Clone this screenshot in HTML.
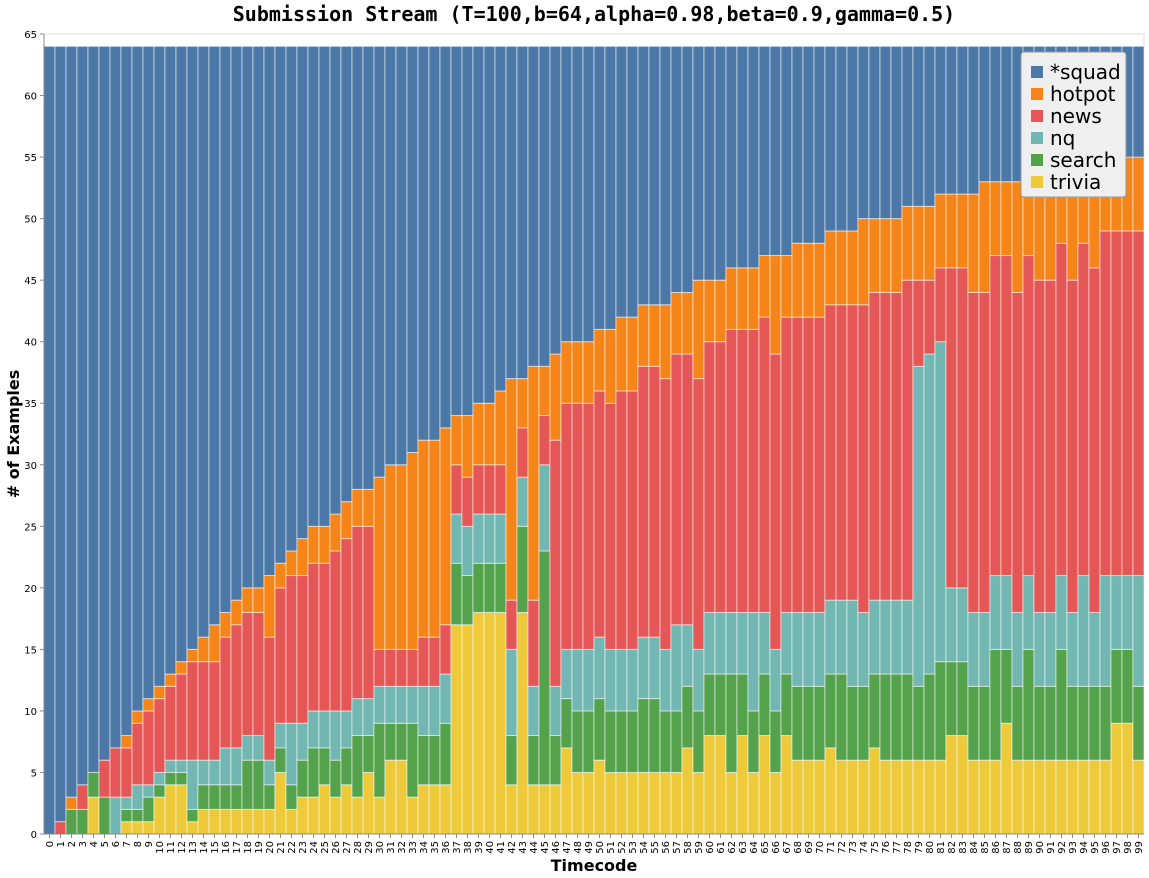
<!DOCTYPE html>
<html><head><meta charset="utf-8"><style>
body{margin:0;background:#fff;}
svg{display:block;font-family:"DejaVu Sans","Liberation Sans",sans-serif;}
</style></head><body>
<svg id="chart" width="1149" height="878">
<text x="594" y="21" text-anchor="middle" font-family="DejaVu Sans Mono, Liberation Mono, monospace" font-weight="bold" font-size="20">Submission Stream (T=100,b=64,alpha=0.98,beta=0.9,gamma=0.5)</text>
<g id="grid"></g><g id="bars"></g><g id="yaxis"></g><g id="xaxis"></g>
<text x="594" y="871" text-anchor="middle" font-weight="bold" font-size="16">Timecode</text>
<text transform="translate(19,434) rotate(-90)" text-anchor="middle" font-weight="bold" font-size="16"># of Examples</text>
<g id="legend"></g>
</svg>
<script>
const trivia=[0,0,0,0,3,0,0,1,1,1,3,4,4,1,2,2,2,2,2,2,2,5,2,3,3,4,3,4,3,5,3,6,6,3,4,4,4,17,17,18,18,18,4,18,4,4,4,7,5,5,6,5,5,5,5,5,5,5,7,5,8,8,5,8,5,8,5,8,6,6,6,7,6,6,6,7,6,6,6,6,6,6,8,8,6,6,6,9,6,6,6,6,6,6,6,6,6,9,9,6];
const search=[0,0,2,2,2,3,0,1,1,2,1,1,1,1,2,2,2,2,4,4,2,2,2,3,4,3,3,3,5,3,6,3,3,6,4,4,5,5,4,4,4,4,4,7,4,19,4,4,5,5,5,5,5,5,6,6,5,5,5,5,5,5,8,5,5,5,5,5,6,6,6,6,7,6,6,6,7,7,7,6,7,8,6,6,6,6,9,6,6,9,6,6,9,6,6,6,6,6,6,6];
const nq=[0,0,0,0,0,0,3,1,2,1,1,1,1,4,2,2,3,3,2,2,2,2,5,3,3,3,4,3,3,3,3,3,3,3,4,4,4,4,4,4,4,4,7,4,4,7,4,4,5,5,5,5,5,5,5,5,5,7,5,5,5,5,5,5,8,5,5,5,6,6,6,6,6,7,6,6,6,6,6,26,26,26,6,6,6,6,6,6,6,6,6,6,6,6,9,6,9,6,6,9];
const news=[0,1,0,2,0,3,4,4,5,6,6,6,7,8,8,8,9,10,10,10,10,11,12,12,12,12,13,14,14,14,3,3,3,3,4,4,4,4,4,4,4,4,4,4,7,4,20,20,20,20,20,20,21,21,22,22,22,22,22,22,22,22,23,23,23,24,24,24,24,24,24,24,24,24,25,25,25,25,26,7,6,6,26,26,26,26,26,26,26,26,27,27,27,27,27,28,28,28,28,28];
const hotpot=[0,0,1,0,0,0,0,1,1,1,1,1,1,1,2,3,2,2,2,2,5,2,2,3,3,3,3,3,3,3,14,15,15,16,16,16,16,4,5,5,5,6,18,4,19,4,7,5,5,5,5,6,6,6,5,5,6,5,5,8,5,5,5,5,5,5,8,5,6,6,6,6,6,6,7,6,6,6,6,6,6,6,6,6,8,9,6,6,9,7,9,9,6,9,6,9,6,6,6,6];
const squad=[64,63,61,60,59,58,57,56,54,53,52,51,50,49,48,47,46,45,44,44,43,42,41,40,39,39,38,37,36,36,35,34,34,33,32,32,31,30,30,29,29,28,27,27,26,26,25,24,24,24,23,23,22,22,21,21,21,20,20,19,19,19,18,18,18,17,17,17,16,16,16,15,15,15,14,14,14,14,13,13,13,12,12,12,12,11,11,11,11,10,10,10,10,10,10,9,9,9,9,9];
const seriesNames=["trivia","search","nq","news","hotpot","*squad"];
const yTicks=[0,5,10,15,20,25,30,35,40,45,50,55,60,65];
const series=[trivia,search,nq,news,hotpot,squad];
const colors=["#eeca3b","#54a24b","#72b7b2","#e45756","#f58518","#4c78a8"];
const X0=44,X1=1144,Y0=834,Y1=34,YMAX=65,N=trivia.length;
const bw=(X1-X0)/N;
const xs=i=>X0+i*bw;
const ys=v=>Y0-(v/YMAX)*(Y0-Y1);
const NS="http://www.w3.org/2000/svg";
function mk(tag,attrs,parent){const e=document.createElementNS(NS,tag);for(const k in attrs)e.setAttribute(k,attrs[k]);parent.appendChild(e);return e;}
const grid=document.getElementById('grid'),bars=document.getElementById('bars'),yax=document.getElementById('yaxis'),xax=document.getElementById('xaxis'),leg=document.getElementById('legend');
const frame=mk('rect',{x:X0,y:Y1,width:X1-X0,height:Y0-Y1,fill:'none',stroke:'#ddd'},grid);


for(const t of yTicks){
 const l=mk('line',{x1:X0-4,x2:X0,y1:ys(t),y2:ys(t),stroke:'#888'},yax);
 
 
 const tx=mk('text',{x:X0-7,y:ys(t)+4,'text-anchor':'end','font-size':10},yax);
 tx.textContent=t;
 
 
}
for(let i=0;i<N;i++){
 let acc=0;
 for(let s=0;s<series.length;s++){
  const v=series[s][i];
  if(v>0){
   const r=mk('rect',{x:xs(i),y:ys(acc+v),width:bw,height:ys(acc)-ys(acc+v),fill:colors[s],stroke:'rgba(255,255,255,0.55)','stroke-width':1},bars);
   
   
  }
  acc+=v;
 }
 const cx=xs(i)+bw/2;
 mk('line',{x1:cx,x2:cx,y1:Y0,y2:Y0+4,stroke:'#888'},xax);
 const tx=mk('text',{transform:`translate(${cx+3.5},${Y0+7}) rotate(-90)`,'text-anchor':'end','font-size':10},xax);
 tx.textContent=i;
 
 
}
mk('line',{x1:X0,x2:X1,y1:Y0,y2:Y0,stroke:'#888'},xax);
mk('line',{x1:X0,x2:X0,y1:Y1,y2:Y0,stroke:'#888'},yax);
const box=mk('rect',{x:1021,y:52,width:105,height:145,rx:3,fill:'#efefef',stroke:'#999'},leg);


const order=[5,4,3,2,1,0];
order.forEach((s,k)=>{
 const yy=72+k*22;
 const sw=mk('rect',{x:1031,y:yy-6,width:12,height:12,fill:colors[s]},leg);
 
 
 const tx=mk('text',{x:1050,y:yy+7,'font-size':20},leg);
 tx.textContent=seriesNames[s];
 
 
});
</script>
</body></html>
